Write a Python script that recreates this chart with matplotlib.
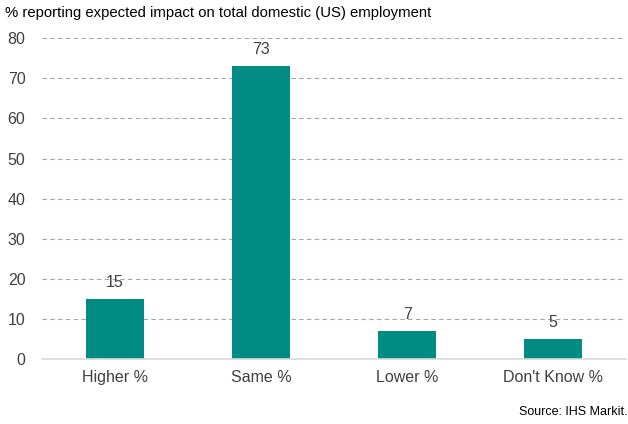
import matplotlib
matplotlib.use("Agg")
from matplotlib import pyplot as plt
import numpy as np

plt.rcParams['font.family'] = ['Liberation Sans', 'DejaVu Sans']

categories = ["Higher %", "Same %", "Lower %", "Don't Know %"]
values = [15, 73, 7, 5]
yticks = [0, 10, 20, 30, 40, 50, 60, 70, 80]

bar_color = '#008C82'
text_color = '#404040'

fig = plt.figure(figsize=(6.28, 4.24), dpi=100)
ax = fig.add_axes([0.067, 0.153, 0.93, 0.757])

x = np.arange(len(categories))
bars = ax.bar(x, values, width=0.4, color=bar_color, zorder=3)
for xi, v in zip(x, values):
    ax.text(xi, v + 2.2, str(v), ha='center', va='bottom', fontsize=11.5, color=text_color)

ax.set_xlim(-0.5, len(categories) - 0.5)
ax.set_ylim(0, 80)
ax.set_yticks(yticks)
ax.set_xticks(x)
ax.set_xticklabels(categories)
ax.tick_params(axis='both', length=0, labelsize=11.5, labelcolor=text_color)
ax.tick_params(axis='x', pad=8)
ax.tick_params(axis='y', pad=12)
ax.yaxis.grid(True, linestyle=(0, (4, 3)), color='#a6a6a6', linewidth=0.8, zorder=0)
for s in ['top', 'right', 'left']:
    ax.spines[s].set_visible(False)
ax.spines['bottom'].set_color('#d9d9d9')
ax.spines['bottom'].set_linewidth(1.2)
ax.spines['bottom'].set_zorder(4)

fig.text(0.008, 0.985, "% reporting expected impact on total domestic (US) employment",
         ha='left', va='top', fontsize=10.7, color='#000000')
fig.text(0.999, 0.015, "Source: IHS Markit.", ha='right', va='bottom', fontsize=9, color='#000000')

fig.savefig("out.png", dpi=100)
